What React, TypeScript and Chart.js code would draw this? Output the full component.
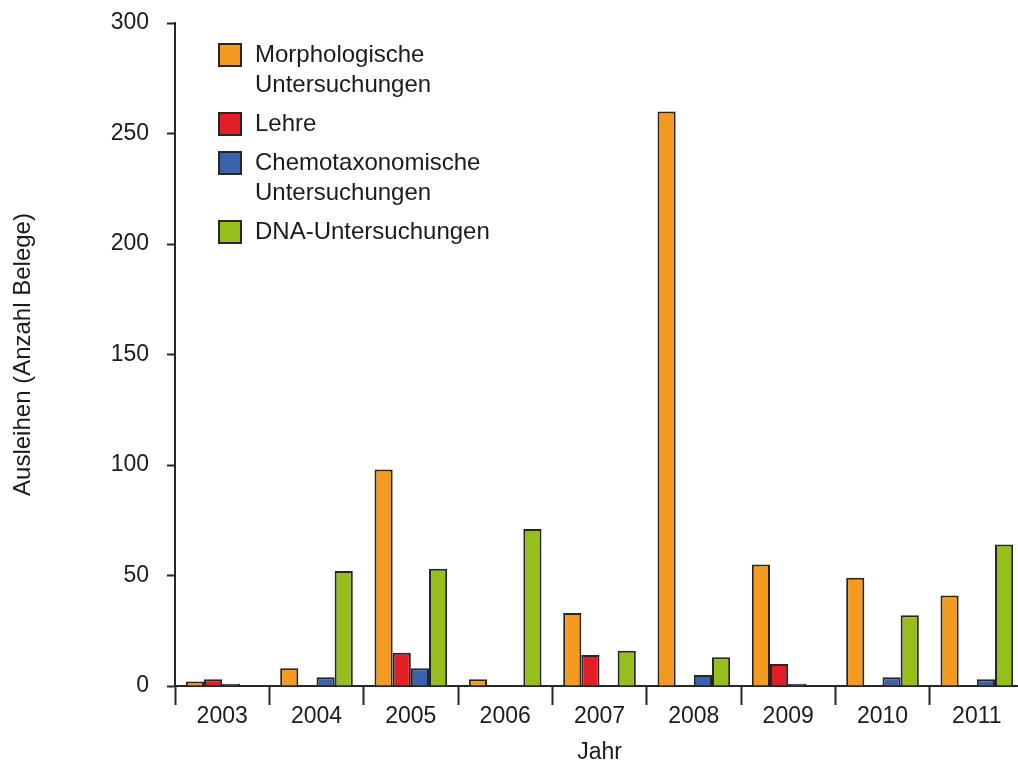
import React, { useEffect, useRef } from "react";
import { Chart, registerables } from "chart.js";

Chart.register(...registerables);

const years = ["2003", "2004", "2005", "2006", "2007", "2008", "2009", "2010", "2011"];
const morphologische = [2, 8, 98, 3, 33, 260, 55, 49, 41];
const lehre = [3, null, 15, null, 14, null, 10, null, null];
const chemotaxonomische = [1, 4, 8, null, null, 5, 1, 4, 3];
const dna = [null, 52, 53, 71, 16, 13, null, 32, 64];

const seriesLabels = [
  "Morphologische Untersuchungen",
  "Lehre",
  "Chemotaxonomische Untersuchungen",
  "DNA-Untersuchungen",
];
const legendLines = [
  ["Morphologische", "Untersuchungen"],
  ["Lehre"],
  ["Chemotaxonomische", "Untersuchungen"],
  ["DNA-Untersuchungen"],
];
const yTicks = [0, 50, 100, 150, 200, 250, 300];

const FONT = "'Liberation Sans', Arial, Helvetica, sans-serif";
const TEXT = "#1c1a1b";
const LINE = "#262626";
const COLORS = ["#f49a1e", "#e31e26", "#3b62ad", "#97bf1c"];

const legendPlugin = {
  id: "customLegend",
  afterDraw(chart: any) {
    const ctx = chart.ctx as CanvasRenderingContext2D;
    const area = chart.chartArea;
    const boxX = area.left + 44;
    const textX = area.left + 80;
    ctx.save();
    ctx.font = `24px ${FONT}`;
    ctx.textBaseline = "middle";
    ctx.textAlign = "left";
    let y = area.top + 32;
    chart.data.datasets.forEach((ds: any, i: number) => {
      const lines = legendLines[i];
      ctx.fillStyle = ds.backgroundColor;
      ctx.fillRect(boxX, y - 11, 22, 22);
      ctx.strokeStyle = LINE;
      ctx.lineWidth = 2;
      ctx.strokeRect(boxX, y - 11, 22, 22);
      ctx.fillStyle = TEXT;
      lines.forEach((ln, j) => ctx.fillText(ln, textX, y + j * 30));
      y += (lines.length - 1) * 30 + 39;
    });
    ctx.restore();
  },
};

export default function App() {
  const ref = useRef<HTMLCanvasElement | null>(null);

  useEffect(() => {
    if (!ref.current) return;
    const series = [morphologische, lehre, chemotaxonomische, dna];
    const chart = new Chart(ref.current, {
      type: "bar",
      data: {
        labels: years,
        datasets: series.map((d, i) => ({
          label: seriesLabels[i],
          data: d,
          backgroundColor: COLORS[i],
          borderColor: LINE,
          borderWidth: 2,
          borderSkipped: "bottom",
          categoryPercentage: 0.77,
          barPercentage: 1.0,
        })),
      },
      options: {
        responsive: false,
        animation: false,
        devicePixelRatio: 1,
        layout: { padding: { top: 23, left: 0, right: 0, bottom: 0 } },
        plugins: {
          legend: { display: false },
          tooltip: { enabled: false },
        },
        scales: {
          x: {
            type: "category",
            offset: true,
            grid: {
              offset: true,
              drawOnChartArea: false,
              drawTicks: true,
              tickLength: 19,
              tickWidth: 2,
              tickColor: LINE,
            },
            border: { display: true, color: LINE, width: 2 },
            ticks: { color: TEXT, font: { family: FONT, size: 23 }, padding: -2 },
            title: {
              display: true,
              text: "Jahr",
              color: TEXT,
              font: { family: FONT, size: 23 },
              padding: { top: 0, bottom: -3 },
            },
            afterFit: (s: any) => {
              s.height = 77;
              s.paddingLeft = 0;
              s.paddingRight = 0;
            },
          },
          y: {
            min: 0,
            max: 300,
            afterBuildTicks: (s: any) => {
              s.ticks = yTicks.map((v) => ({ value: v }));
            },
            grid: {
              drawOnChartArea: false,
              drawTicks: true,
              tickLength: 8,
              tickWidth: 2,
              tickColor: LINE,
            },
            border: { display: true, color: LINE, width: 2 },
            ticks: { color: TEXT, font: { family: FONT, size: 23 }, padding: 18 },
            title: {
              display: true,
              text: "Ausleihen (Anzahl Belege)",
              color: TEXT,
              font: { family: FONT, size: 24 },
              padding: { top: 9, bottom: 0 },
            },
            afterFit: (s: any) => {
              s.width = 175;
              s.paddingTop = 0;
              s.paddingBottom = 0;
            },
          },
        },
      },
      plugins: [legendPlugin],
    });
    return () => chart.destroy();
  }, []);

  return (
    <div
      style={{
        position: "fixed",
        left: 0,
        top: 0,
        width: 1018,
        height: 763,
        overflow: "hidden",
        background: "#ffffff",
      }}
    >
      <canvas ref={ref} width={1024} height={763} style={{ display: "block", width: 1024, height: 763 }} />
    </div>
  );
}
